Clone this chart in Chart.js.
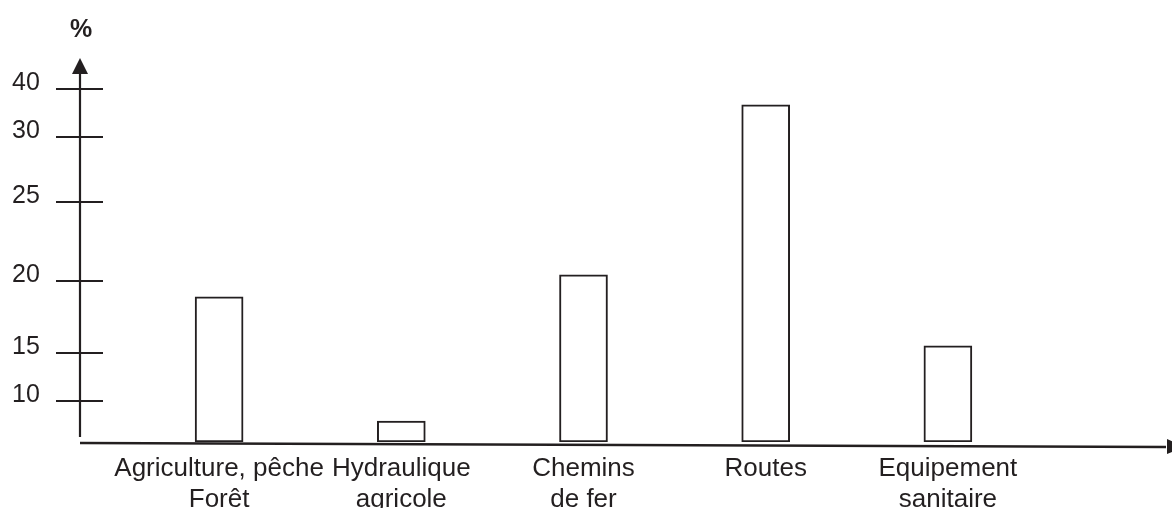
<!DOCTYPE html>
<html>
<head>
<meta charset="utf-8">
<script src="https://cdn.jsdelivr.net/npm/chart.js@4.4.1/dist/chart.umd.min.js"></script>
<style>
  html, body { margin: 0; padding: 0; background: #fff; }
  #wrap { width: 1172px; height: 508px; position: relative; }
</style>
</head>
<body>
<div id="wrap"><canvas id="chart"></canvas></div>
<script>
// --- Data ---
const categories = [
    ['Agriculture, pêche', 'Forêt'],
    ['Hydraulique', 'agricole'],
    ['Chemins', 'de fer'],
    'Routes',
    ['Equipement', 'sanitaire']
];
const shares = [18.9, 5.1, 20.4, 36.7, 15.5];
const yTicks = [10, 15, 20, 25, 30, 40];

// The hand-drawn axis is not evenly spaced: where each value sits along its height (0 = bottom, 1 = top)
const axisValues = [0, 10, 15, 20, 25, 30, 40, 46.5];
const axisStops  = [0, 0.107, 0.232, 0.419, 0.625, 0.794, 0.919, 1];

const ink = '#231f20';

function interpolate(x, xs, ys) {
    if (x <= xs[0]) return ys[0];
    for (let i = 1; i < xs.length; i++) {
        if (x <= xs[i]) {
            const t = (x - xs[i - 1]) / (xs[i] - xs[i - 1]);
            return ys[i - 1] + t * (ys[i] - ys[i - 1]);
        }
    }
    return ys[ys.length - 1];
}

// --- Linear scale with a piecewise (stretched) mapping ---
class StretchedScale extends Chart.LinearScale {
    buildTicks() {
        this.start = this.min;
        this.end = this.max;
        return yTicks.map(v => ({ value: v }));
    }
    getPixelForValue(value) {
        return this.getPixelForDecimal(interpolate(value, axisValues, axisStops));
    }
    getValueForPixel(pixel) {
        return interpolate(this.getDecimalForPixel(pixel), axisStops, axisValues);
    }
}
StretchedScale.id = 'stretched';
StretchedScale.defaults = Chart.LinearScale.defaults;
Chart.register(StretchedScale);

// --- Axis lines, arrows and tick marks drawn like the original sketch ---
const axisLines = {
    id: 'axisLines',
    afterDraw(chart) {
        const { ctx, chartArea, scales: { y } } = chart;
        const ax = chartArea.left - 48;
        const base = chartArea.bottom;
        ctx.save();
        ctx.strokeStyle = ink;
        ctx.fillStyle = ink;
        ctx.lineWidth = 2.2;

        // vertical axis + arrow head
        ctx.beginPath();
        ctx.moveTo(ax, base - 5);
        ctx.lineTo(ax, chartArea.top + 14);
        ctx.stroke();
        ctx.beginPath();
        ctx.moveTo(ax, chartArea.top);
        ctx.lineTo(ax - 8, chartArea.top + 16);
        ctx.lineTo(ax + 8, chartArea.top + 16);
        ctx.closePath();
        ctx.fill();

        // tick marks crossing the axis
        ctx.lineWidth = 2;
        y.ticks.forEach(t => {
            const py = Math.round(y.getPixelForValue(t.value));
            ctx.beginPath();
            ctx.moveTo(ax - 24, py);
            ctx.lineTo(ax + 23, py);
            ctx.stroke();
        });

        // horizontal axis, a little tilted as in the drawing
        ctx.lineWidth = 2.5;
        ctx.beginPath();
        ctx.moveTo(ax, base + 1);
        ctx.lineTo(chart.width - 6, base + 5);
        ctx.stroke();
        ctx.beginPath();
        ctx.moveTo(chart.width - 5, base - 3);
        ctx.lineTo(chart.width + 13, base + 5);
        ctx.lineTo(chart.width - 5, base + 12);
        ctx.closePath();
        ctx.fill();

        // unit label
        ctx.font = 'bold 25px "Liberation Sans", Arial, sans-serif';
        ctx.textAlign = 'center';
        ctx.textBaseline = 'middle';
        ctx.fillText('%', ax + 1, 30);
        ctx.restore();
    }
};

Chart.defaults.font.family = '"Liberation Sans", Arial, sans-serif';
Chart.defaults.color = ink;

new Chart(document.getElementById('chart'), {
    type: 'bar',
    data: {
        labels: categories,
        datasets: [{
            label: '%',
            data: shares,
            backgroundColor: '#ffffff',
            borderColor: ink,
            borderWidth: 2,
            borderSkipped: false,
            barThickness: 48
        }]
    },
    options: {
        responsive: true,
        maintainAspectRatio: false,
        animation: false,
        layout: { padding: { left: 12, right: 133, top: 58, bottom: 0 } },
        plugins: {
            legend: { display: false },
            tooltip: { enabled: true }
        },
        scales: {
            x: {
                grid: { display: false },
                border: { display: false },
                ticks: { font: { size: 26 }, color: ink, padding: 3, maxRotation: 0, autoSkip: false },
                afterFit(scale) { scale.height = 66; }
            },
            y: {
                type: 'stretched',
                min: 0,
                max: 46.5,
                grid: { display: false },
                border: { display: false },
                ticks: { font: { size: 25 }, color: ink, padding: 0, crossAlign: 'far', labelOffset: -6 },
                afterFit(scale) { scale.width = 116; }
            }
        }
    },
    plugins: [axisLines]
});
</script>
</body>
</html>
